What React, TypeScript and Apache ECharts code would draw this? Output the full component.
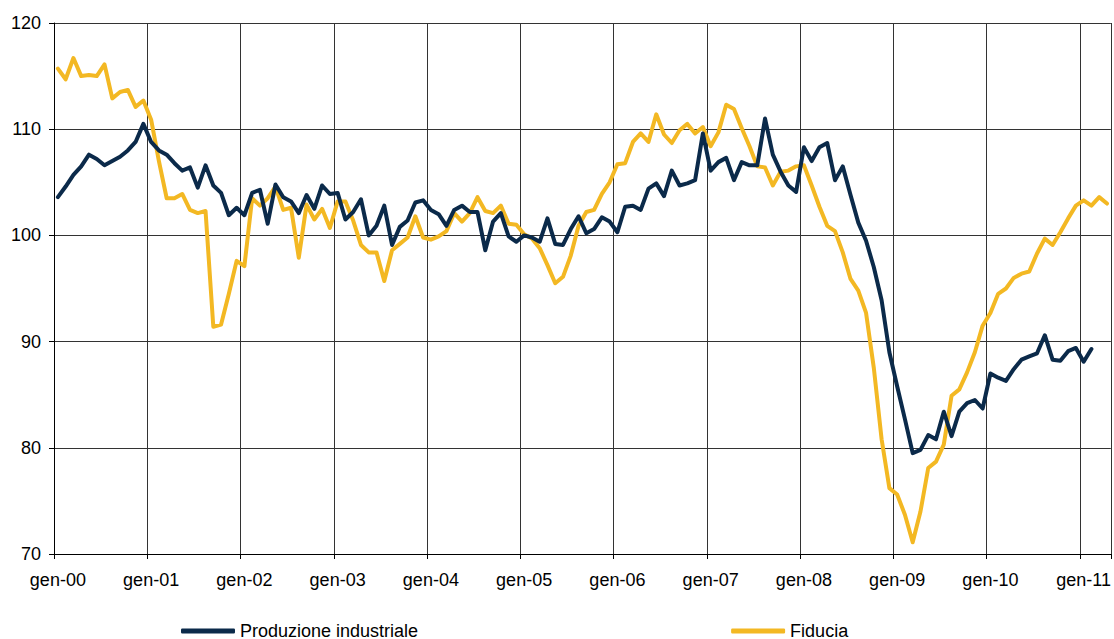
import React, { useEffect, useRef } from "react";
import * as echarts from "echarts";

const MONTHS = ["gen", "feb", "mar", "apr", "mag", "giu", "lug", "ago", "set", "ott", "nov", "dic"];
const START_YEAR = 2000;
const N_MONTHS = 136; // gen-00 .. apr-11
const categories: string[] = [];
for (let i = 0; i < N_MONTHS; i++) {
  const y = START_YEAR + Math.floor(i / 12);
  categories.push(MONTHS[i % 12] + "-" + String(y % 100).padStart(2, "0"));
}

const produzione: (number | null)[] = [
  // 2000
  103.6, 104.6, 105.7, 106.5, 107.6, 107.2, 106.6, 107.0, 107.4, 108.0, 108.8, 110.5,
  // 2001
  108.8, 108.0, 107.6, 106.8, 106.1, 106.4, 104.5, 106.6, 104.7, 104.0, 101.9, 102.6,
  // 2002
  101.9, 104.0, 104.3, 101.1, 104.8, 103.6, 103.2, 102.1, 103.8, 102.5, 104.7, 103.9,
  // 2003
  104.0, 101.5, 102.2, 103.4, 100.0, 100.9, 102.8, 99.1, 100.8, 101.4, 103.1, 103.3,
  // 2004
  102.4, 102.0, 100.9, 102.4, 102.8, 102.2, 102.2, 98.6, 101.3, 102.1, 99.9, 99.4,
  // 2005
  100.0, 99.8, 99.4, 101.6, 99.2, 99.1, 100.6, 101.8, 100.2, 100.6, 101.7, 101.3,
  // 2006
  100.3, 102.7, 102.8, 102.4, 104.4, 104.9, 103.7, 106.1, 104.7, 104.9, 105.2, 109.6,
  // 2007
  106.1, 106.9, 107.3, 105.2, 106.9, 106.6, 106.6, 111.0, 107.6, 106.0, 104.7, 104.1,
  // 2008
  108.3, 107.0, 108.3, 108.7, 105.2, 106.5, 103.8, 101.2, 99.5, 97.0, 93.9, 89.0,
  // 2009
  85.8, 82.7, 79.5, 79.8, 81.2, 80.8, 83.4, 81.1, 83.4, 84.2, 84.5, 83.7,
  // 2010
  87.0, 86.6, 86.3, 87.4, 88.3, 88.6, 88.9, 90.6, 88.3, 88.2, 89.1, 89.4,
  // 2011
  88.1, 89.3, null, null,
];

const fiducia: number[] = [
  // 2000
  115.7, 114.7, 116.7, 115.0, 115.1, 115.0, 116.1, 112.9, 113.5, 113.7, 112.1, 112.7,
  // 2001
  110.9, 107.0, 103.5, 103.5, 103.9, 102.4, 102.1, 102.3, 91.4, 91.6, 94.5, 97.6,
  // 2002
  97.1, 103.5, 102.8, 103.5, 104.6, 102.4, 102.6, 97.9, 102.9, 101.5, 102.5, 100.7,
  // 2003
  103.2, 103.2, 101.4, 99.1, 98.4, 98.4, 95.7, 98.6, 99.2, 99.8, 101.8, 99.8,
  // 2004
  99.6, 99.9, 100.4, 102.1, 101.3, 102.1, 103.6, 102.3, 102.1, 102.8, 101.1, 101.0,
  // 2005
  100.1, 99.7, 98.8, 97.2, 95.5, 96.1, 98.1, 100.9, 102.2, 102.4, 103.9, 105.0,
  // 2006
  106.7, 106.8, 108.8, 109.6, 108.8, 111.4, 109.5, 108.7, 109.9, 110.5, 109.6, 110.2,
  // 2007
  108.4, 109.7, 112.3, 111.9, 110.1, 108.4, 106.5, 106.4, 104.7, 106.0, 106.1, 106.5,
  // 2008
  106.6, 104.7, 102.7, 100.9, 100.4, 98.4, 95.9, 94.8, 92.7, 87.5, 80.8, 76.2,
  // 2009
  75.6, 73.7, 71.1, 74.0, 78.1, 78.7, 80.3, 84.9, 85.5, 87.1, 89.0, 91.5,
  // 2010
  92.7, 94.5, 95.0, 96.0, 96.4, 96.6, 98.3, 99.7, 99.1, 100.3, 101.6, 102.8,
  // 2011
  103.3, 102.8, 103.6, 103.0,
];

const SERIES_NAMES = ["Produzione industriale", "Fiducia"];
const COLORS = ["#0b2a4a", "#f3b823"];
const Y_MIN = 70;
const Y_MAX = 120;
const Y_STEP = 10;

const FONT = "'Liberation Sans', Arial, sans-serif";

export default function App() {
  const ref = useRef<HTMLDivElement>(null);
  useEffect(() => {
    if (!ref.current) return;
    const chart = echarts.init(ref.current, undefined, { renderer: "svg" });
    chart.setOption({
      animation: false,
      backgroundColor: "#ffffff",
      textStyle: { fontFamily: FONT },
      grid: { left: 54, right: 0, top: 23, bottom: 85, containLabel: false },
      legend: {
        left: 176,
        top: 617,
        itemGap: 313,
        itemWidth: 54,
        itemHeight: 5,
        icon: "roundRect",
        textStyle: { fontSize: 18, color: "#000", fontFamily: FONT },
        data: SERIES_NAMES,
      },
      xAxis: {
        type: "category",
        data: categories,
        boundaryGap: true,
        axisLine: { show: true, lineStyle: { color: "#000", width: 1 } },
        axisTick: { show: true, interval: 11, length: 5, lineStyle: { color: "#000" } },
        axisLabel: {
          interval: 11,
          fontSize: 18,
          color: "#000",
          margin: 17,
          fontFamily: FONT,
        },
        splitLine: { show: true, interval: 11, lineStyle: { color: "#333", width: 1 } },
      },
      yAxis: {
        type: "value",
        min: Y_MIN,
        max: Y_MAX,
        interval: Y_STEP,
        axisLine: { show: true, lineStyle: { color: "#000", width: 1 } },
        axisTick: { show: true, length: 5, lineStyle: { color: "#000" } },
        axisLabel: { fontSize: 18, color: "#000", margin: 13, fontFamily: FONT },
        splitLine: { show: true, lineStyle: { color: "#333", width: 1 } },
      },
      series: [
        {
          name: SERIES_NAMES[0],
          type: "line",
          data: produzione,
          showSymbol: false,
          symbol: "none",
          lineStyle: { color: COLORS[0], width: 4, cap: "round", join: "round" },
          itemStyle: { color: COLORS[0] },
          z: 3,
        },
        {
          name: SERIES_NAMES[1],
          type: "line",
          data: fiducia,
          showSymbol: false,
          symbol: "none",
          lineStyle: { color: COLORS[1], width: 4, cap: "round", join: "round" },
          itemStyle: { color: COLORS[1] },
          z: 2,
        },
      ],
    });
    return () => chart.dispose();
  }, []);
  return (
    <div
      ref={ref}
      style={{ position: "absolute", left: 0, top: 0, width: 1114, height: 639 }}
    />
  );
}
